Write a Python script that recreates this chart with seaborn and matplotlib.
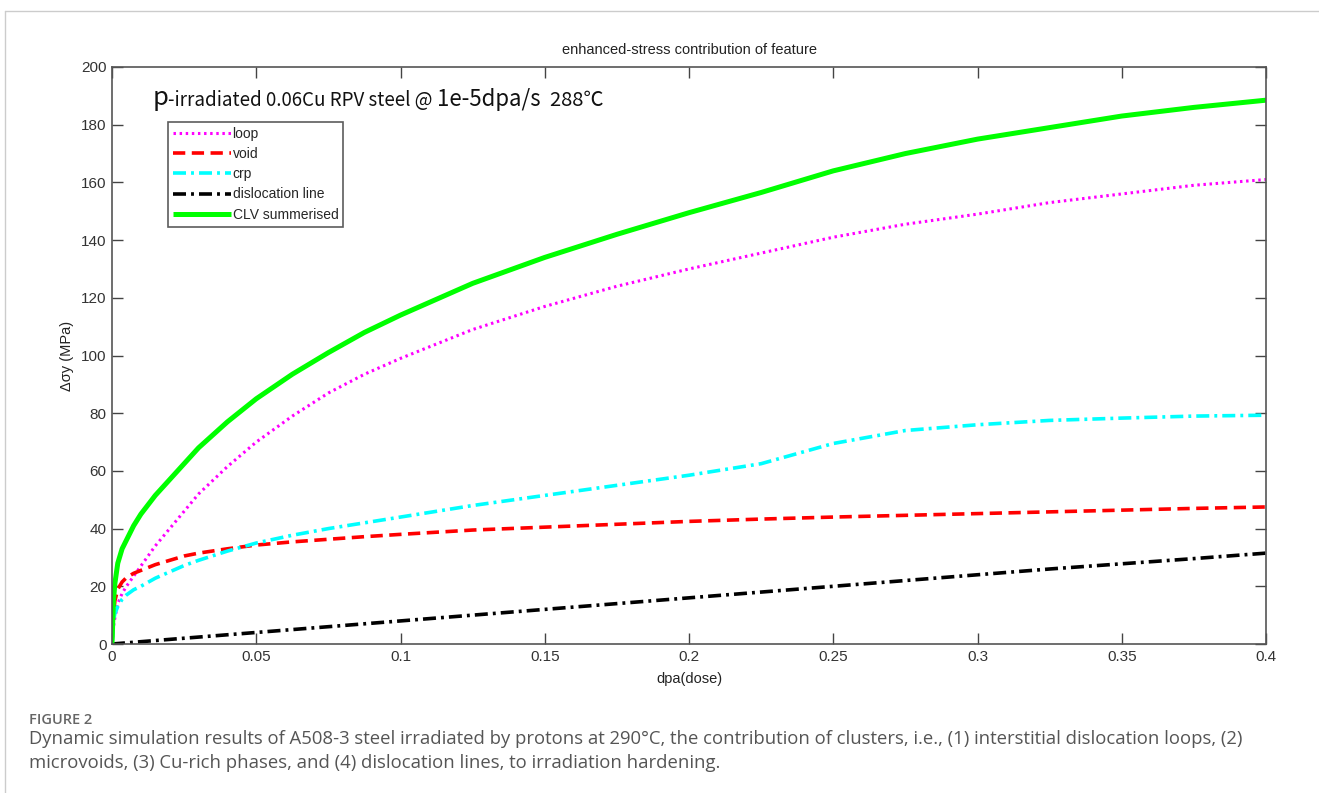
import numpy as np
import pandas as pd
import matplotlib
matplotlib.use("Agg")
import matplotlib.pyplot as plt
import seaborn as sns
from matplotlib.lines import Line2D

# ---------------- data ----------------
dose = [0, 0.0005, 0.001, 0.002, 0.0035, 0.005, 0.0075, 0.01, 0.015, 0.02, 0.025,
        0.03, 0.04, 0.05, 0.0625, 0.075, 0.0875, 0.1, 0.125, 0.15, 0.175, 0.2,
        0.225, 0.25, 0.275, 0.3, 0.325, 0.35, 0.375, 0.4]
loop = [0, 6, 9, 14, 17.5, 20, 23.5, 27, 34, 40, 46, 52, 61.5, 70, 79, 87, 93.5,
        99, 109, 117, 124, 130, 135.5, 141, 145.5, 149, 153, 156, 159, 161]
void = [0, 10, 15, 19, 21.5, 23, 24.5, 25.5, 27.5, 29, 30.5, 31.5, 33, 34.3, 35.4,
        36.3, 37.2, 38, 39.5, 40.5, 41.5, 42.5, 43.3, 44, 44.6, 45.2, 45.8, 46.4,
        47, 47.5]
crp = [0, 8, 10.5, 13, 15.5, 17, 18.8, 20, 22.8, 25, 27.2, 29, 32.2, 35, 37.7, 40,
       42, 44, 48, 51.5, 55, 58.5, 62.5, 69.5, 74, 76, 77.5, 78.3, 79, 79.3]
disl = [0, 0.04, 0.08, 0.16, 0.28, 0.4, 0.6, 0.8, 1.2, 1.6, 2.0, 2.4, 3.2, 4, 5, 6,
        7, 8, 10, 12, 14, 16, 18, 20, 22, 24, 26, 27.8, 29.6, 31.5]
clv = [0, 15, 21, 28, 33, 36, 41, 45, 51.5, 57, 62.5, 68, 77, 85, 93.5, 101, 108,
       114, 125, 134, 142, 149.5, 156.5, 164, 170, 175, 179, 183, 186, 188.5]

series_names = ["loop", "void", "crp", "dislocation line", "CLV summerised"]
series_vals = [loop, void, crp, disl, clv]

x_ticks = [0, 0.05, 0.1, 0.15, 0.2, 0.25, 0.3, 0.35, 0.4]
x_tick_labels = ["0", "0.05", "0.1", "0.15", "0.2", "0.25", "0.3", "0.35", "0.4"]
y_ticks = [0, 20, 40, 60, 80, 100, 120, 140, 160, 180, 200]

# ---------------- style ----------------
sns.set_theme(style="white")
plt.rcParams["font.family"] = ["Liberation Sans", "DejaVu Sans"]

styles = {
    "loop": dict(color="#ff00ff", lw=2.2, dashes=(0.8, 1.2)),
    "void": dict(color="#ff0000", lw=2.6, dashes=(3.4, 1.8)),
    "crp": dict(color="#00ffff", lw=2.6, dashes=(3.6, 1.4, 0.8, 1.4)),
    "dislocation line": dict(color="#000000", lw=2.6, dashes=(3.6, 1.4, 0.8, 1.4)),
    "CLV summerised": dict(color="#00ff00", lw=3.6, dashes=None),
}

fig = plt.figure(figsize=(13.19, 7.93), dpi=100)
ax = fig.add_axes([112 / 1319, 1 - 644 / 793, (1266 - 112) / 1319, (644 - 67) / 793])

for name, vals in zip(series_names, series_vals):
    df = pd.DataFrame({"dose": dose, "val": vals})
    st = styles[name]
    sns.lineplot(data=df, x="dose", y="val", ax=ax, color=st["color"],
                 lw=st["lw"], label=name, legend=False, sort=False)
    l = ax.lines[-1]
    if st["dashes"] is not None:
        l.set_dashes(st["dashes"])
    l.set_solid_capstyle("butt")
    l.set_dash_capstyle("butt")
    l.set_solid_joinstyle("round")

ax.set_xlim(0, 0.4)
ax.set_ylim(0, 200)
ax.set_xticks(x_ticks)
ax.set_xticklabels(x_tick_labels)
ax.set_yticks(y_ticks)
ax.tick_params(direction="in", length=8, width=1, color="#444444",
               top=True, right=True, bottom=True, left=True,
               labelsize=11, labelcolor="#333333", pad=4)
for sp in ax.spines.values():
    sp.set_color("#555555")
    sp.set_linewidth(1.2)

ax.set_xlabel("dpa(dose)", fontsize=10.5, color="#222222", labelpad=6)
ax.set_ylabel("Δσy (MPa)", fontsize=10.5, color="#222222", labelpad=5)
ax.set_title("enhanced-stress contribution of feature", fontsize=10.5,
             color="#222222", pad=9)

leg = ax.legend(loc="upper left", bbox_to_anchor=(0.0485, 0.905), fontsize=10,
                frameon=True, fancybox=False, edgecolor="#333333",
                handlelength=4.2, handletextpad=0.1, borderpad=0.35,
                labelspacing=0.45, borderaxespad=0)
leg.get_frame().set_linewidth(1.2)

# annotation text
cjk = ["Noto Sans CJK SC", "DejaVu Sans"]
t1 = ax.text(0.035, 0.935, "p", transform=ax.transAxes, fontsize=18.5,
             family=cjk, color="#111111", va="baseline")
t2 = ax.annotate("-irradiated 0.06Cu RPV steel @ ", xy=(1, 0), xycoords=t1,
                 fontsize=13.5, family=cjk, color="#111111", va="bottom")
t3 = ax.annotate("1e-5dpa/s", xy=(1, 0), xycoords=t2, fontsize=16,
                 family=cjk, color="#111111", va="bottom")
t4 = ax.annotate("  288℃", xy=(1, 0), xycoords=t3, fontsize=14.5,
                 family=cjk, color="#111111", va="bottom")

# caption
cap = ["Open Sans", "DejaVu Sans"]
fig.text(29 / 1319, 1 - 720 / 793, "FIGURE 2", fontsize=10.5, color="#666666",
         family=cap, va="center", weight="semibold")
fig.text(29 / 1319, 1 - 739 / 793,
         "Dynamic simulation results of A508-3 steel irradiated by protons at 290°C, the contribution of clusters, i.e., (1) interstitial dislocation loops, (2)",
         fontsize=13.3, color="#555555", family=cap, va="center")
fig.text(29 / 1319, 1 - 763 / 793,
         "microvoids, (3) Cu-rich phases, and (4) dislocation lines, to irradiation hardening.",
         fontsize=13.3, color="#555555", family=cap, va="center")

# page frame
fig.add_artist(Line2D([5 / 1319, 1.0], [1 - 11 / 793, 1 - 11 / 793],
                      transform=fig.transFigure, color="#cccccc", lw=1))
fig.add_artist(Line2D([5 / 1319, 5 / 1319], [0, 1 - 11 / 793],
                      transform=fig.transFigure, color="#cccccc", lw=1))

fig.savefig("out.png", dpi=100)
